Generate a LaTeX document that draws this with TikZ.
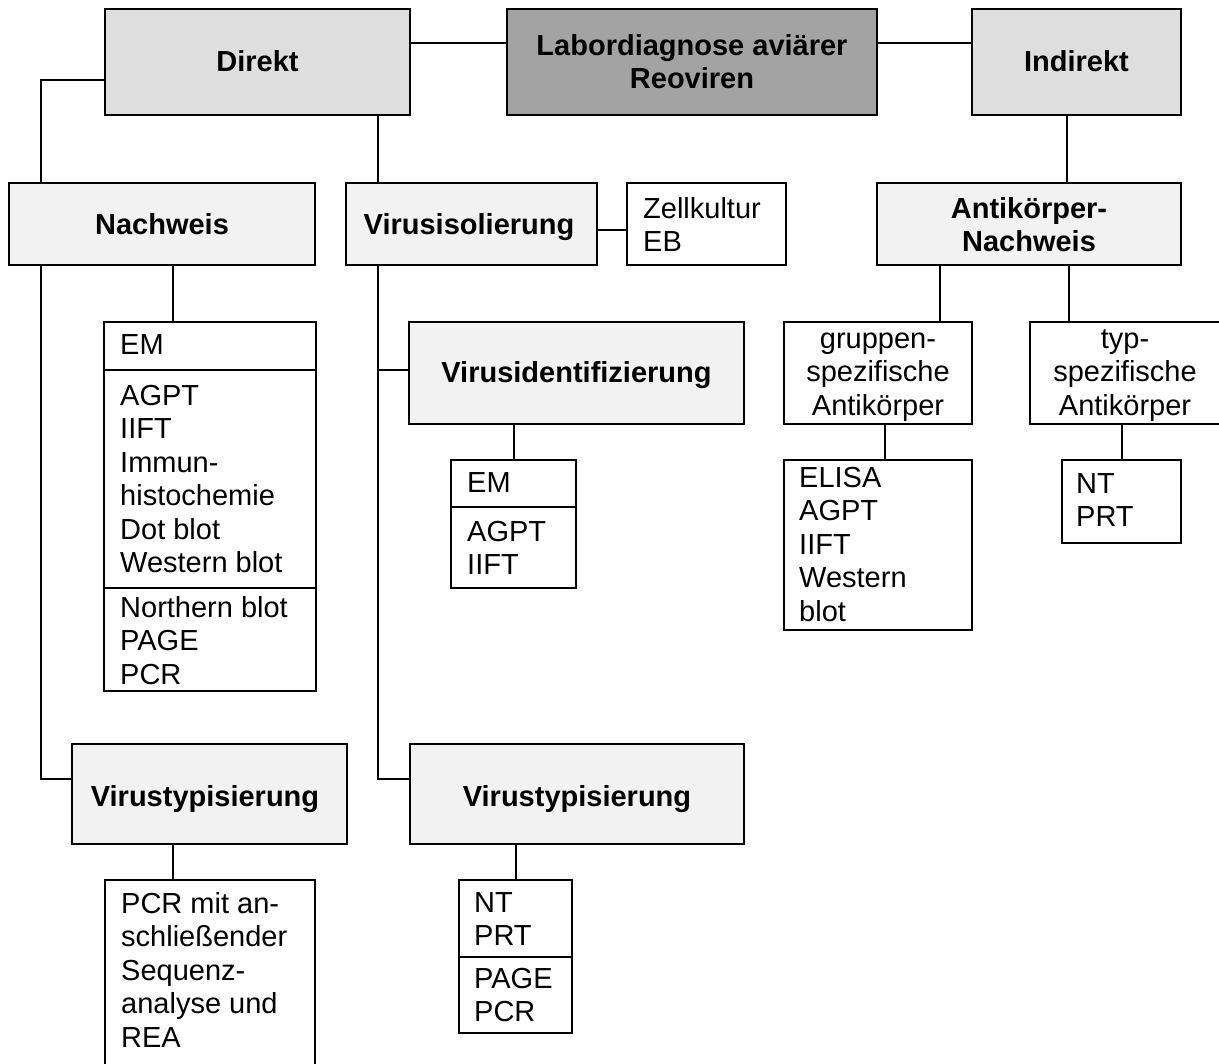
\documentclass[tikz,border=0pt]{standalone}
\usepackage{fontspec}
\setmainfont{Liberation Sans}
\usetikzlibrary{fit}
\definecolor{labfill}{HTML}{A3A3A3}
\definecolor{midfill}{HTML}{DEDEDE}
\definecolor{lightfill}{HTML}{F2F2F2}
\newcommand\fst{\rule{0pt}{24pt}}
\begin{document}
\begin{tikzpicture}[x=1pt,y=-1pt,
  box/.style={draw=black, line width=2.8pt, inner sep=0pt},
  conn/.style={draw=black, line width=2.8pt},
  reg/.style={inner sep=0pt, font=\fontsize{29}{33.5}\selectfont},
  bld/.style={inner sep=0pt, font=\fontsize{29}{33.5}\selectfont\bfseries}]
\useasboundingbox (0,0) rectangle (1219,1064);
\clip (0,0) rectangle (1219,1064);

% helper coordinates
\coordinate (h43) at (0,43);
\coordinate (h80) at (0,80);
\coordinate (h230) at (0,230);
\coordinate (h370) at (0,370);
\coordinate (h507) at (0,507);
\coordinate (h588) at (0,588);
\coordinate (h779) at (0,779);
\coordinate (h957) at (0,957);
\coordinate (v41) at (41,0);
\coordinate (v173) at (173,0);
\coordinate (v378) at (378,0);
\coordinate (v514) at (514,0);
\coordinate (v516) at (516,0);
\coordinate (v885) at (885,0);
\coordinate (v940) at (940,0);
\coordinate (v1067) at (1067,0);
\coordinate (v1069) at (1069,0);
\coordinate (v1122) at (1122,0);

% boxes
\node[box, fill=midfill, fit={(105,9) (410,115)}] (dir) {};
\node[box, fill=labfill, fit={(507,9) (877,115)}] (lab) {};
\node[box, fill=midfill, fit={(972,9) (1181,115)}] (ind) {};
\node[box, fill=lightfill, fit={(9,183) (315,265)}] (nach) {};
\node[box, fill=lightfill, fit={(346,183) (597,265)}] (iso) {};
\node[box, fit={(627,183) (786,265)}] (zell) {};
\node[box, fill=lightfill, fit={(877,183) (1181,265)}] (ak) {};
\node[box, fit={(104,322) (316,691)}] (nlist) {};
\node[box, fill=lightfill, fit={(409,322) (744,424)}] (ident) {};
\node[box, fit={(451,460) (576,588)}] (ilist) {};
\node[box, fit={(784,322) (972,424)}] (grp) {};
\node[box, fit={(1030,322) (1220,424)}] (typ) {};
\node[box, fit={(784,460) (972,630)}] (glist) {};
\node[box, fit={(1062,460) (1181,543)}] (tlist) {};
\node[box, fill=lightfill, fit={(72,744) (347,844)}] (typ1) {};
\node[box, fill=lightfill, fit={(410,744) (744,844)}] (typ2) {};
\node[box, fit={(105,880) (315,1090)}] (pcr) {};
\node[box, fit={(459,880) (572,1033)}] (t2list) {};

% dividers
\draw[conn] (nlist.west |- h370) -- (nlist.east |- h370);
\draw[conn] (nlist.west |- h588) -- (nlist.east |- h588);
\draw[conn] (ilist.west |- h507) -- (ilist.east |- h507);
\draw[conn] (t2list.west |- h957) -- (t2list.east |- h957);

% connectors
\draw[conn] (dir.east |- h43) -- (lab.west |- h43);
\draw[conn] (lab.east |- h43) -- (ind.west |- h43);
\draw[conn] (dir.west |- h80) -| (nach.north -| v41);
\draw[conn] (dir.south -| v378) -- (iso.north -| v378);
\draw[conn] (iso.east |- h230) -- (zell.west |- h230);
\draw[conn] (ind.south -| v1067) -- (ak.north -| v1067);
\draw[conn] (nach.south -| v41) |- (typ1.west |- h779);
\draw[conn] (nach.south -| v173) -- (nlist.north -| v173);
\draw[conn] (iso.south -| v378) |- (typ2.west |- h779);
\coordinate (j1) at (v378 |- h370);
\draw[conn] (j1) -- (ident.west |- h370);
\draw[conn] (ident.south -| v514) -- (ilist.north -| v514);
\draw[conn] (ak.south -| v940) -- (grp.north -| v940);
\draw[conn] (ak.south -| v1069) -- (typ.north -| v1069);
\draw[conn] (grp.south -| v885) -- (glist.north -| v885);
\draw[conn] (typ.south -| v1122) -- (tlist.north -| v1122);
\draw[conn] (typ1.south -| v173) -- (pcr.north -| v173);
\draw[conn] (typ2.south -| v516) -- (t2list.north -| v516);

% texts
\node[bld, anchor=base] (tdir) at (257.5,72) {Direkt};
\node[bld, anchor=north, align=center] (tlab) at (692,31) {\fst Labordiagnose aviärer\\Reoviren};
\node[bld, anchor=base] (tind) at (1076.5,72) {Indirekt};
\node[bld, anchor=base] (tnach) at (162,235) {Nachweis};
\node[bld, anchor=base] (tiso) at (469,235) {Virusisolierung};
\node[reg, anchor=north west, align=left] (tzell) at (643,194) {\fst Zellkultur\\EB};
\node[bld, anchor=north, align=center] (tak) at (1029,194) {\fst Antikörper-\\Nachweis};
\node[reg, anchor=base west] (tn1) at (120,355) {EM};
\node[reg, anchor=north west, align=left] (tn2) at (120,381) {\fst AGPT\\IIFT\\Immun-\\histochemie\\Dot blot\\Western blot};
\node[reg, anchor=north west, align=left] (tn3) at (120,593) {\fst Northern blot\\PAGE\\PCR};
\node[bld, anchor=base] (tident) at (576.5,383) {Virusidentifizierung};
\node[reg, anchor=base west] (ti1) at (467,493) {EM};
\node[reg, anchor=north west, align=left] (ti2) at (467,517) {\fst AGPT\\IIFT};
\node[reg, anchor=north, align=center] (tgrp) at (878,324) {\fst gruppen-\\spezifische\\Antikörper};
\node[reg, anchor=north, align=center] (ttyp) at (1125,324) {\fst typ-\\spezifische\\Antikörper};
\node[reg, anchor=north west, align=left] (tg) at (799,463) {\fst ELISA\\AGPT\\IIFT\\Western\\blot};
\node[reg, anchor=north west, align=left] (tt) at (1076,469) {\fst NT\\PRT};
\node[bld, anchor=base] (ttyp1) at (205,806) {Virustypisierung};
\node[bld, anchor=base] (ttyp2) at (577,806) {Virustypisierung};
\node[reg, anchor=north west, align=left] (tpcr) at (121,889) {\fst PCR mit an-\\schließender\\Sequenz-\\analyse und\\REA};
\node[reg, anchor=north west, align=left] (tt2a) at (474,888) {\fst NT\\PRT};
\node[reg, anchor=north west, align=left] (tt2b) at (474,964) {\fst PAGE\\PCR};
\end{tikzpicture}
\end{document}
